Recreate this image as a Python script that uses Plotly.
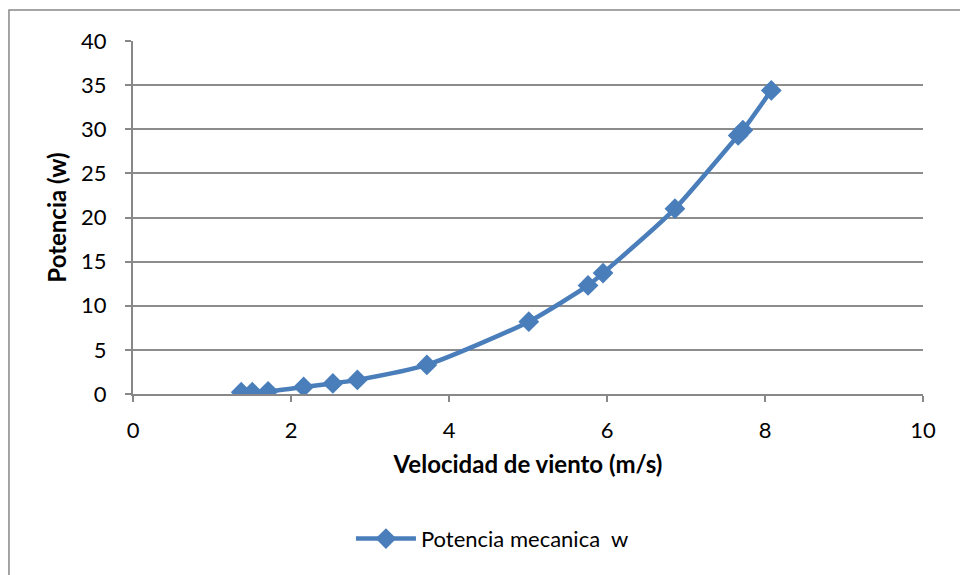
import plotly.graph_objects as go

velocidad = [1.37, 1.51, 1.71, 2.16, 2.53, 2.84, 3.72, 5.01, 5.76, 5.95, 6.86, 7.66, 7.72, 8.08]
potencia = [0.2, 0.2, 0.3, 0.8, 1.2, 1.6, 3.3, 8.2, 12.3, 13.7, 21.0, 29.3, 29.9, 34.4]
serie_nombre = "Potencia mecanica  w"
x_titulo = "Velocidad de viento (m/s)"
y_titulo = "Potencia (w)"

color = "#4A7EBB"
font = "Lato, Carlito, Calibri, sans-serif"

fig = go.Figure()
fig.add_trace(go.Scatter(
    x=velocidad, y=potencia, name=serie_nombre,
    mode="lines+markers",
    line=dict(color=color, width=4.5, shape="spline", smoothing=0.6),
    marker=dict(symbol="diamond", size=16, color=color),
))

fig.update_layout(
    width=960, height=575,
    margin=dict(l=133, r=37, t=41, b=181),
    paper_bgcolor="white", plot_bgcolor="white",
    font=dict(family=font, size=22, color="black"),
    showlegend=True,
    legend=dict(orientation="h", x=0.455, xanchor="center", y=-0.41, yanchor="middle",
                font=dict(size=22), itemwidth=60),
    xaxis=dict(
        range=[0, 10], dtick=2, tick0=0,
        showgrid=False, showline=True, linecolor="#888888", linewidth=2,
        ticks="outside", ticklen=6, tickcolor="#888888", tickwidth=1.5,
        zeroline=False, tickfont=dict(size=22), ticklabelstandoff=10,
        title=dict(text="<b>" + x_titulo + "</b>", font=dict(size=24), standoff=14),
    ),
    yaxis=dict(
        range=[0, 40], dtick=5, tick0=0,
        showgrid=True, gridcolor="#8c8c8c", gridwidth=1.5,
        showline=True, linecolor="#888888", linewidth=2,
        ticks="outside", ticklen=6, tickcolor="#888888", tickwidth=1.5,
        zeroline=False, tickfont=dict(size=22), ticklabelstandoff=14,
        title=dict(text="<b>" + y_titulo + "</b>", font=dict(size=24), standoff=8),
    ),
    shapes=[dict(type="rect", xref="paper", yref="paper",
                 x0=-0.157, x1=1.06, y0=-0.55, y1=1.088,
                 line=dict(color="#888888", width=1.5), fillcolor="rgba(0,0,0,0)", layer="below")],
)

fig.write_html("out.html")
